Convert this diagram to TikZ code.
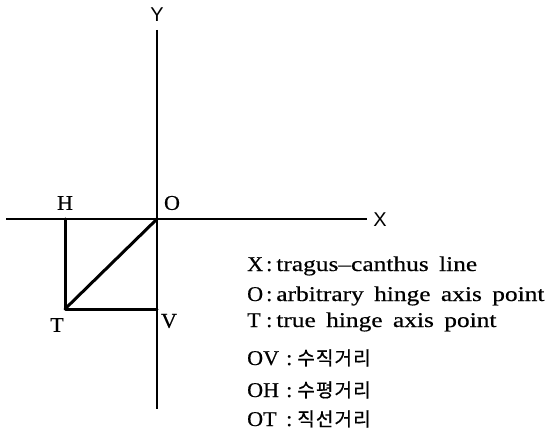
\documentclass[tikz,border=0pt]{standalone}
\usepackage{fontspec}
\setmainfont[FakeStretch=1.21,FakeBold=0.5]{Liberation Serif}
\newfontfamily\keyfont[FakeStretch=1.05,FakeBold=0.5]{Liberation Serif}
\newfontfamily\lblsans{Liberation Sans}
\newfontfamily\kr[LetterSpace=6,FakeBold=0.6]{Noto Sans CJK KR}
\tikzset{
  axis/.style={line width=2.3pt},
  thickline/.style={line width=3pt, line cap=round, line join=round},
  lbl/.style={inner sep=0pt, font=\keyfont\fontsize{21}{21}\selectfont},
  sanslbl/.style={inner sep=0pt, font=\lblsans\fontsize{20}{20}\selectfont},
  leg/.style={inner sep=0pt, anchor=base west, font=\fontsize{21}{21}\selectfont},
}
\newcommand{\legkey}[3]{\makebox[#1][l]{\keyfont\fontsize{21}{21}\selectfont #2}{\keyfont\fontsize{21}{21}\selectfont :}\hspace{#3}}
\newcommand{\wsp}{\hspace{4pt} }
\newcommand{\krt}[1]{{\kr\fontsize{19}{19}\selectfont #1}}
\begin{document}
\begin{tikzpicture}[x=1pt,y=-1pt]
\useasboundingbox (0,0) rectangle (552,441);
% points
\coordinate (O) at (157,219);
\coordinate (H) at (65,219);
\coordinate (T) at (65,309);
\coordinate (V) at (157,309);
\coordinate (Ytop) at (157,30);
\coordinate (Ybot) at (157,409);
\coordinate (Xl) at (6,219);
\coordinate (Xr) at (367,219);
% axes
\draw[axis] (Ytop) -- (Ybot);
\draw[axis] (Xl) -- (Xr);
% triangle
\draw[thickline] (H) -- (T) -- (V);
\draw[thickline] (T) -- (O);
% labels
\node[sanslbl] (ylab) at (157,15) {Y};
\node[sanslbl] (xlab) at (380,220) {X};
\node[lbl] (hlab) at (65,203) {H};
\node[lbl] (olab) at (172,203) {O};
\node[lbl] (tlab) at (57,325) {T};
\node[lbl] (vlab) at (169,321) {V};
% legend
\node[leg] (l1) at (247,271) {\legkey{19pt}{X}{4pt}tragus--canthus\wsp line};
\node[leg] (l2) at (247,301) {\legkey{19pt}{O}{4pt}arbitrary\wsp hinge\wsp axis\wsp point};
\node[leg] (l3) at (247,327) {\legkey{19pt}{T}{4pt}true\wsp hinge\wsp axis\wsp point};
\node[leg] (l4) at (247,365) {\legkey{39pt}{OV}{5pt}\krt{수직거리}};
\node[leg] (l5) at (247,397) {\legkey{39pt}{OH}{5pt}\krt{수평거리}};
\node[leg] (l6) at (247,426) {\legkey{39pt}{OT}{5pt}\krt{직선거리}};
\end{tikzpicture}
\end{document}
